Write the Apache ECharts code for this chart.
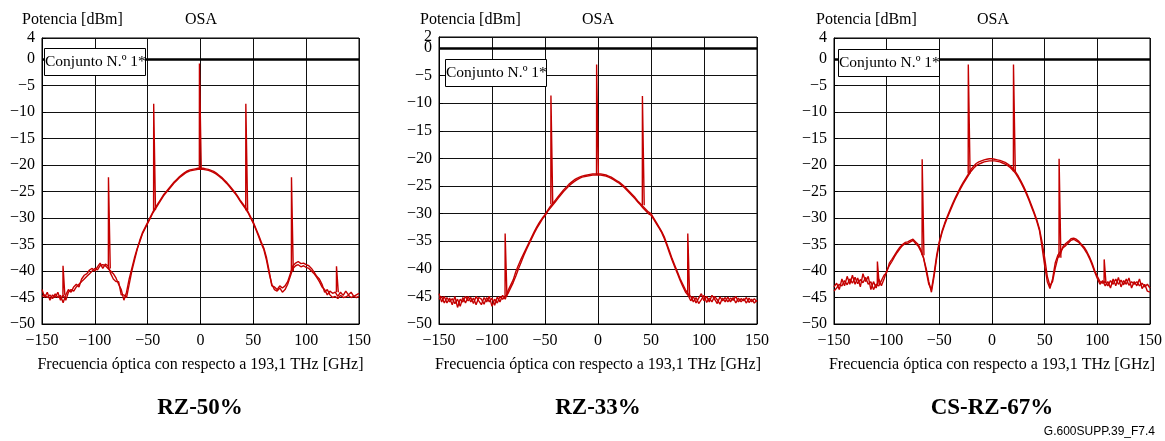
<!DOCTYPE html>
<html><head><meta charset="utf-8">
<script src="https://cdn.jsdelivr.net/npm/echarts@6/dist/echarts.min.js"></script>
<style>html,body{margin:0;padding:0;background:#fff}#c{width:1165px;height:441px}</style>
</head><body><div id="c"></div>
<script>
// Optical frequency relative to 193.1 THz [GHz]
const freqGHz = [
  -150,-147.5,-145,-142.5,-140,-137.5,-135,-132.5,
  -130,-127.5,-125,-122.5,-120,-117.5,-115,-112.5,
  -110,-107.5,-105,-102.5,-100,-97.5,-95,-92.5,
  -90,-87.5,-85,-82.5,-80,-77.5,-75,-72.5,
  -70,-67.5,-65,-62.5,-60,-57.5,-55,-52.5,
  -50,-47.5,-45,-42.5,-40,-37.5,-35,-32.5,
  -30,-27.5,-25,-22.5,-20,-17.5,-15,-12.5,
  -10,-7.5,-5,-2.5,0,2.5,5,7.5,
  10,12.5,15,17.5,20,22.5,25,27.5,
  30,32.5,35,37.5,40,42.5,45,47.5,
  50,52.5,55,57.5,60,62.5,65,67.5,
  70,72.5,75,77.5,80,82.5,85,87.5,
  90,92.5,95,97.5,100,102.5,105,107.5,
  110,112.5,115,117.5,120,122.5,125,127.5,
  130,132.5,135,137.5,140,142.5,145,147.5,
  150
];

// RZ-50% (dBm)
const rz50TraceA = [
  -43.5,-45,-44,-45.5,-44.5,-45,-44,-45.5,
  -44.5,-45.5,-44,-43.5,-43.8,-43,-42.5,-42,
  -41.5,-41,-40.5,-40,-39.5,-39.8,-39,-38.8,
  -39,-39.5,-40,-40.5,-41.3,-42.5,-43.5,-45.5,
  -44,-41.5,-39.5,-37.5,-35.8,-34.5,-33,-32,
  -31,-30,-29,-28.2,-27.4,-26.6,-25.8,-25.2,
  -24.6,-24,-23.4,-22.9,-22.4,-22,-21.6,-21.3,
  -21.1,-21,-20.9,-20.8,-20.8,-20.8,-20.9,-21,
  -21.2,-21.4,-21.7,-22.1,-22.5,-23,-23.5,-24.1,
  -24.7,-25.3,-26,-26.8,-27.5,-28.2,-29,-30,
  -31,-32.2,-33.5,-34.8,-36,-38,-40.5,-42.5,
  -43.5,-43.8,-43.2,-44,-43.5,-42.5,-41,-39.5,
  -39,-38.8,-39.2,-39,-39.3,-39.5,-40,-40.5,
  -41.2,-42,-43,-43.5,-44.5,-43.8,-44.2,-44,
  -44.8,-44,-44.6,-43.8,-44.5,-44,-44.8,-44.5,
  -44.2
];
const rz50TraceB = [
  -44.8,-44.5,-45,-44.5,-45.2,-44.3,-45,-44.6,
  -46,-44.5,-43.5,-44,-43,-42.5,-43,-41.5,
  -40.8,-40.5,-39.8,-39.5,-40,-39.2,-38.5,-39.5,
  -38.7,-39,-40.5,-41.5,-42,-42,-44.5,-44.5,
  -45,-42.5,-40,-38,-36,-34.2,-32.8,-31.8,
  -30.8,-29.8,-28.8,-28,-27.2,-26.4,-25.6,-25,
  -24.4,-23.8,-23.2,-22.7,-22.2,-21.8,-21.4,-21.1,
  -20.9,-20.8,-20.7,-20.6,-20.6,-20.6,-20.7,-20.8,
  -21,-21.2,-21.5,-21.9,-22.3,-22.8,-23.3,-23.9,
  -24.5,-25.1,-25.8,-26.6,-27.3,-28,-28.8,-29.8,
  -30.8,-32,-33.2,-34.5,-35.7,-37.5,-40,-42.8,
  -43,-43.5,-42.8,-43.2,-42.8,-42,-40.5,-39,
  -38.5,-38.2,-38.6,-38.5,-38.8,-39,-39.5,-40.2,
  -41,-41.5,-42.5,-44,-43.5,-44.5,-45,-44.8,
  -45.2,-44.6,-45,-44.9,-44.6,-45,-44.8,-45,
  -44.8
];
const rz50SpikeFreq = [-129.3,-86.3,-43.5,-0.2,43.7,86.9,129.5];
const rz50SpikePeak = [-39,-22.3,-8.4,-0.8,-8.4,-22.3,-39.1];
const rz50SpikeBase = [-44.5,-39.5,-28.5,-20.8,-28.5,-40,-44];

// RZ-33% (dBm)
const rz33TraceA = [
  -44.5,-46,-45,-46.2,-45.3,-46.5,-45,-47,
  -45.5,-46,-45,-45.8,-45.2,-46.3,-45,-45.8,
  -46.5,-45.2,-46,-45,-46.8,-45.5,-46.2,-45,
  -45.5,-45,-44.5,-43.5,-42.5,-41.3,-40,-38.8,
  -37.6,-36.5,-35.5,-34.5,-33.5,-32.6,-31.8,-31,
  -30.4,-29.6,-29,-28.4,-27.8,-27.2,-26.6,-26,
  -25.5,-25,-24.6,-24.2,-23.9,-23.6,-23.4,-23.3,
  -23.2,-23.1,-23,-23,-23,-23,-23.1,-23.2,
  -23.4,-23.6,-23.9,-24.2,-24.5,-24.9,-25.3,-25.8,
  -26.3,-26.8,-27.3,-27.9,-28.4,-29,-29.5,-30,
  -30.3,-31,-31.8,-32.6,-33.4,-34.5,-35.8,-37.2,
  -38.5,-39.7,-40.9,-42.1,-43.2,-44.2,-44.8,-45.8,
  -45,-46.2,-45.3,-44.5,-45.8,-45,-46,-44.8,
  -45.5,-46.3,-45.1,-45.8,-45.2,-46,-45.3,-45.7,
  -45,-46,-45.4,-45.8,-45.2,-46.1,-45.5,-46.2,
  -45.7
];
const rz33TraceB = [
  -45.5,-45,-46.2,-45.2,-46,-45.4,-46.3,-45.5,
  -46.8,-45.2,-46.2,-45,-46,-45.3,-46.5,-45.2,
  -45.5,-46.4,-45.2,-46,-45.3,-46.6,-45.1,-46,
  -44.8,-45.5,-44,-43,-42,-40.5,-39.3,-38.2,
  -37.2,-36.2,-35.2,-34.2,-33.2,-32.3,-31.5,-30.8,
  -30.2,-29.4,-28.7,-28.1,-27.5,-26.9,-26.3,-25.7,
  -25.2,-24.7,-24.3,-23.9,-23.6,-23.4,-23.2,-23.1,
  -23,-22.9,-22.8,-22.8,-22.8,-22.8,-22.9,-23,
  -23.2,-23.4,-23.7,-24,-24.3,-24.7,-25.1,-25.6,
  -26.1,-26.6,-27.1,-27.7,-28.2,-28.7,-29.2,-29.7,
  -30,-30.8,-31.6,-32.4,-33.2,-34.2,-35.5,-36.8,
  -38.2,-39.4,-40.6,-41.8,-42.8,-43.8,-44.5,-45,
  -46,-45.2,-46.3,-45.6,-44.8,-46.1,-45.3,-46,
  -45,-45.6,-46.4,-45.3,-46,-45.1,-46,-45.2,
  -46.2,-45.3,-46,-45.4,-46.2,-45.3,-46,-45.4,
  -46
];
const rz33SpikeFreq = [-86.8,-43.6,-0.5,42.7,85.5];
const rz33SpikePeak = [-33.6,-8.6,-3,-8.7,-33.6];
const rz33SpikeBase = [-45,-28.3,-23,-28.5,-44.8];

// CS-RZ-67% (dBm)
const csrz67TraceA = [
  -43,-42.3,-43.5,-41.5,-42.8,-41,-42.5,-40.8,
  -42.5,-41.3,-43,-40.5,-42,-41,-43.5,-42,
  -43.2,-41.5,-42.8,-41.5,-40,-39,-38.2,-37.3,
  -36.5,-35.8,-35.2,-34.8,-34.8,-34.5,-34.2,-34.8,
  -35.3,-36.3,-37.5,-39.5,-42,-44,-41,-37.5,
  -34.7,-32.8,-31.3,-30,-28.8,-27.6,-26.5,-25.5,
  -24.5,-23.6,-22.8,-22,-21.2,-20.6,-20.1,-19.8,
  -19.6,-19.4,-19.3,-19.2,-19.2,-19.2,-19.3,-19.4,
  -19.6,-19.8,-20.1,-20.5,-21,-21.6,-22.4,-23.3,
  -24.3,-25.4,-26.6,-27.9,-29.2,-30.6,-32.3,-35.5,
  -39,-42,-43.3,-41.5,-38.5,-37,-36.3,-35.6,
  -35.2,-34.7,-34.2,-34,-34.3,-34.6,-35.2,-35.8,
  -36.6,-37.6,-38.8,-40.2,-41.4,-42.5,-41.8,-42.8,
  -42,-43.2,-41.5,-42.8,-41.2,-43,-41.8,-42.5,
  -41.3,-43.2,-42,-42.8,-41.5,-43.3,-42.5,-43.8,
  -44
];
const csrz67TraceB = [
  -43.8,-43.2,-42.5,-42.8,-41.8,-42.6,-41.5,-42.3,
  -41.2,-42.4,-41.6,-42.2,-41.2,-42.5,-42,-43.5,
  -42.5,-42.8,-41.8,-40.8,-40.3,-38.5,-37.8,-37,
  -36.2,-35.5,-35,-34.6,-34.5,-34.2,-34,-34.5,
  -35,-36,-37.5,-40,-42.5,-43.5,-40.5,-37,
  -34.4,-32.5,-31,-29.7,-28.5,-27.3,-26.2,-25.2,
  -24.2,-23.3,-22.5,-21.7,-20.8,-20.2,-19.7,-19.4,
  -19.2,-19,-18.9,-18.8,-18.8,-18.9,-19,-19.1,
  -19.3,-19.5,-19.8,-20.2,-20.7,-21.3,-22.1,-23,
  -24,-25.1,-26.3,-27.6,-28.9,-30.3,-32,-34.5,
  -37.5,-41,-42.8,-42,-39.5,-37.5,-36.8,-35.3,
  -34.8,-34.4,-33.9,-33.8,-34,-34.4,-35,-35.5,
  -36.3,-37.3,-38.5,-39.9,-41,-42,-42.3,-42,
  -42.8,-41.8,-42.5,-41.5,-42.5,-41.7,-42.6,-41.5,
  -42.7,-42,-42.5,-42,-42.8,-42.3,-43,-42.5,
  -43.2
];
const csrz67SpikeFreq = [-108,-65.5,-21.7,21.2,64.5,107.3];
const csrz67SpikePeak = [-38.2,-18.9,-1,-1,-18.8,-37.8];
const csrz67SpikeBase = [-42.5,-37,-21.6,-21.2,-37.5,-42.2];

const panelTitles = ['RZ-50%', 'RZ-33%', 'CS-RZ-67%'];
const yTopValues = [4, 2, 4];
const xAxisName = 'Frecuencia óptica con respecto a 193,1 THz [GHz]';
const yAxisName = 'Potencia [dBm]';
const instrumentLabel = 'OSA';
const setLabel = 'Conjunto N.º 1*';
const figureId = 'G.600SUPP.39_F7.4';

const panels = [
  {a: rz50TraceA, b: rz50TraceB, sf: rz50SpikeFreq, sp: rz50SpikePeak, sb: rz50SpikeBase},
  {a: rz33TraceA, b: rz33TraceB, sf: rz33SpikeFreq, sp: rz33SpikePeak, sb: rz33SpikeBase},
  {a: csrz67TraceA, b: csrz67TraceB, sf: csrz67SpikeFreq, sp: csrz67SpikePeak, sb: csrz67SpikeBase}
];

// layout (pixels)
const gridBoxes = [
  {left: 42, top: 38, width: 317, height: 286},
  {left: 439, top: 37, width: 318, height: 287},
  {left: 834, top: 38, width: 318, height: 286}
];
const FONT = '"Liberation Serif", "Times New Roman", serif';
const RED = '#c40000';
const fmt = v => String(v).replace('-', '\u2212');

const grids = [], xAxes = [], yAxes = [], series = [];
panels.forEach((p, i) => {
  grids.push(Object.assign({show: true, borderColor: '#000', borderWidth: 1, backgroundColor: 'transparent'}, gridBoxes[i]));
  xAxes.push({
    type: 'value', gridIndex: i, min: -150, max: 150, interval: 50,
    axisLine: {show: true, onZero: false, lineStyle: {color: '#000', width: 1}},
    axisTick: {show: true, inside: true, length: 4, lineStyle: {color: '#000'}},
    splitLine: {show: true, lineStyle: {color: '#111', width: 1}},
    axisLabel: {color: '#000', fontFamily: FONT, fontSize: 16, margin: 9, formatter: fmt},
    name: xAxisName, nameLocation: 'middle', nameGap: 33,
    nameTextStyle: {color: '#000', fontFamily: FONT, fontSize: 16}
  });
  const topOverlaps = yTopValues[i] < 5;
  yAxes.push({
    type: 'value', gridIndex: i, min: -50, max: yTopValues[i], interval: 5,
    axisLine: {show: true, onZero: false, lineStyle: {color: '#000', width: 1}},
    axisTick: {show: true, inside: true, length: 4, lineStyle: {color: '#000'}},
    splitLine: {show: true, lineStyle: {color: '#111', width: 1}},
    axisLabel: {color: '#000', fontFamily: FONT, fontSize: 16, margin: 7, formatter: fmt,
      showMaxLabel: yTopValues[i] === 4, showMinLabel: true}
  });
  const lineCommon = {type: 'line', xAxisIndex: i, yAxisIndex: i, showSymbol: false, symbol: 'none',
    lineStyle: {color: RED, width: 1.4}, itemStyle: {color: RED}, silent: true, animation: false, z: 3};
  series.push(Object.assign({}, lineCommon, {
    data: freqGHz.map((f, k) => [f, p.a[k]]),
    markLine: {silent: true, symbol: 'none', label: {show: false}, animation: false,
      lineStyle: {color: '#000', width: 2.5, type: 'solid'}, data: [{yAxis: 0}]}
  }));
  series.push(Object.assign({}, lineCommon, {data: freqGHz.map((f, k) => [f, p.b[k]])}));
  p.sf.forEach((f, k) => {
    series.push(Object.assign({}, lineCommon, {
      data: [[f - 0.9, p.sb[k]], [f - 0.8, p.sp[k]], [f + 0.8, p.sp[k]], [f + 0.9, p.sb[k]]],
      lineStyle: {color: RED, width: 1.4}
    }));
  });
});
// extra label-only axis for the top tick of the RZ-33% panel (its "2" sits right above "0")
yAxes.push({
  type: 'value', gridIndex: 1, min: -50, max: yTopValues[1], interval: 5, position: 'left',
  axisLine: {show: false}, axisTick: {show: false}, splitLine: {show: false},
  axisLabel: {color: '#000', fontFamily: FONT, fontSize: 16, margin: 7, showMaxLabel: true,
    formatter: v => (v === yTopValues[1] ? String(v) : '')}
});

const headerPos = [[22, 185], [420, 582], [816, 977]];
const boxPos = [[44, 48], [445, 59], [838, 49]];
const titleCenters = [200, 598, 992];
const graphics = [];
for (let i = 0; i < 3; i++) {
  const tf = '16px ' + FONT;
  graphics.push({type: 'text', z: 100, style: {text: yAxisName, x: headerPos[i][0], y: 20, textVerticalAlign: 'middle', font: tf, fill: '#000'}});
  graphics.push({type: 'text', z: 100, style: {text: instrumentLabel, x: headerPos[i][1], y: 20, textVerticalAlign: 'middle', font: tf, fill: '#000'}});
  graphics.push({type: 'rect', z: 100, shape: {x: boxPos[i][0] + 0.5, y: boxPos[i][1] + 0.5, width: 101, height: 27},
    style: {fill: '#fff', stroke: '#000', lineWidth: 1}});
  graphics.push({type: 'text', z: 101, style: {text: setLabel, x: boxPos[i][0] + 1, y: boxPos[i][1] + 14, textVerticalAlign: 'middle', font: '15.5px ' + FONT, fill: '#000'}});
  graphics.push({type: 'text', z: 100, style: {text: panelTitles[i], x: titleCenters[i], y: 408, textAlign: 'center', textVerticalAlign: 'middle', font: 'bold 23px ' + FONT, fill: '#000'}});
}
graphics.push({type: 'text', z: 100, style: {text: figureId, x: 1155, y: 432, textAlign: 'right', textVerticalAlign: 'middle', font: '12px "Liberation Sans Narrow", "Liberation Sans", Arial, sans-serif', fill: '#000'}});

const chart = echarts.init(document.getElementById('c'), null, {renderer: 'canvas'});
chart.setOption({
  animation: false,
  backgroundColor: '#fff',
  grid: grids, xAxis: xAxes, yAxis: yAxes, series: series,
  graphic: graphics
});
</script>
</body></html>
